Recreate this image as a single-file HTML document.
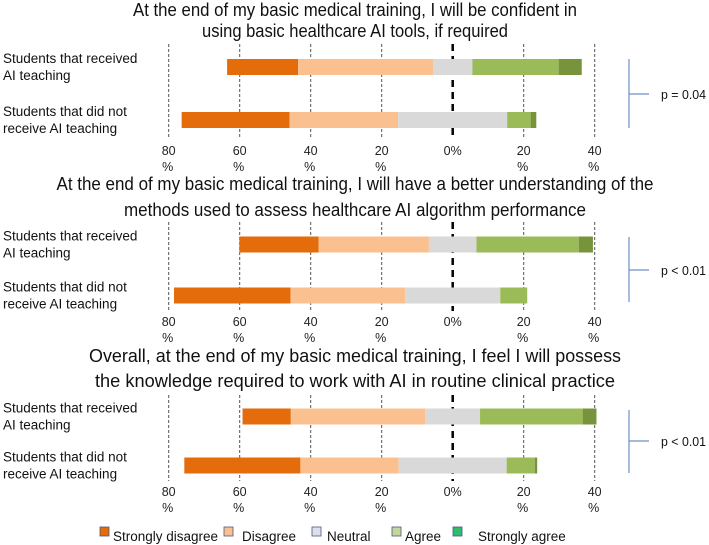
<!DOCTYPE html>
<html><head><meta charset="utf-8"><style>
body{margin:0;background:#fff;}
svg{display:block;font-family:"Liberation Sans",sans-serif;}
</style></head><body>
<svg id="c" width="709" height="545"></svg>
<script>
const categories=["Strongly disagree","Disagree","Neutral","Agree","Strongly agree"];
const groups=["Students that received|AI teaching","Students that did not|receive AI teaching"];
const titles=[
 ["At the end of my basic medical training, I will be confident in","using basic healthcare AI tools, if required"],
 ["At the end of my basic medical training, I will have a better understanding of the","methods used to assess healthcare AI algorithm performance"],
 ["Overall, at the end of my basic medical training, I feel I will possess","the knowledge required to work with AI in routine clinical practice"]];
const pValues=["p = 0.04","p < 0.01","p < 0.01"];
const q1Received=[20,38,11.1,24.3,6.5];
const q1NotReceived=[30.4,30.6,30.7,6.6,1.6];
const q2Received=[22.3,31.1,13.4,28.8,4.0];
const q2NotReceived=[32.8,32.3,26.8,7.6,0];
const q3Received=[13.6,37.9,15.4,28.9,3.9];
const q3NotReceived=[32.7,27.7,30.4,7.9,0.7];
const tickValues=[-80,-60,-40,-20,0,20,40];
const tickLabels=["80|%","60|%","40|%","20|%","0%","20|%","40|%"];
const series=[[q1Received,q1NotReceived],[q2Received,q2NotReceived],[q3Received,q3NotReceived]];
const colors=["#e46c0a","#fac090","#d9d9d9","#9bbb59","#77933c"];
const legendColors=["#e46c0a","#fac090","#dce0ec","#c3d69b","#2ebd6e"];
const svg=document.getElementById('c');const NS="http://www.w3.org/2000/svg";
function mk(t,a,p){const e=document.createElementNS(NS,t);for(const k in a)e.setAttribute(k,a[k]);(p||svg).appendChild(e);return e;}
const x0=452.7,ppp=3.55;
function xs(v){return x0+v*ppp;}
const panels=[
 {t1:10,t2:31,tw:[444,306],gTop:44,gBot:137,rows:[67,120],lab:150,br:[59,128,94]},
 {t1:184,t2:210,tw:[597,462],gTop:222,gBot:311,rows:[244.5,295.5],lab:321,br:[237,302,270]},
 {t1:356,t2:381,tw:[532,520],gTop:395,gBot:481,rows:[416.5,465.5],lab:491,br:[410,473,441]}];
panels.forEach((P,pi)=>{
 const g=mk('g',{});
 
 
 [0,1].forEach(li=>{const t=mk('text',{x:355,y:(li?P.t2:P.t1)+6,'text-anchor':'middle','font-size':18,fill:'#111',textLength:P.tw[li],lengthAdjust:'spacingAndGlyphs'},g);t.textContent=titles[pi][li];
  
  });
 tickValues.forEach((v,i)=>{
  const zero=v===0;
  const l=mk('line',{x1:xs(v),x2:xs(v),y1:P.gTop,y2:P.gBot,stroke:zero?'#000':'#555','stroke-width':zero?2.5:1,'stroke-dasharray':zero?'7,5':'3,2'},g);
  
  
  const parts=tickLabels[i].split('|');
  parts.forEach((s,k)=>{const t=mk('text',{x:xs(v)+(k?-1:0),y:P.lab+5+k*16,'text-anchor':'middle','font-size':12.5,fill:'#222'},g);t.textContent=s;
   
   });
 });
 series[pi].forEach((vals,ri)=>{
  const cy=P.rows[ri];
  groups[ri].split('|').forEach((s,k)=>{const t=mk('text',{x:3,y:cy-4+k*17,'font-size':13.5,fill:'#111'},g);t.textContent=s;
   
   });
  let start=-(vals[0]+vals[1]+vals[2]/2);
  vals.forEach((v,si)=>{
   if(v<=0)return;
   const r=mk('rect',{x:xs(start),y:cy-8,width:v*ppp,height:16,fill:colors[si]},g);
   
   
   start+=v;
  });
 });
 const [b1,b2,bm]=P.br;
 const br=mk('path',{d:`M629 ${b1}V${b2}M629 ${bm}H649`,stroke:'#6f8fc7','stroke-width':1.2,fill:'none'},g);
 
 
 const pt=mk('text',{x:661,y:bm+5,'font-size':13,fill:'#111',textLength:45,lengthAdjust:'spacingAndGlyphs'},g);pt.textContent=pValues[pi];
 
 
});
const legSq=[100,224,312,392,453],legTx=[113,242,327,405,478];
categories.forEach((c,i)=>{
 const r=mk('rect',{x:legSq[i],y:527,width:9,height:9,fill:legendColors[i],stroke:'#4a5a7a','stroke-width':0.8});
 
 
 const t=mk('text',{x:legTx[i],y:541,'font-size':13.5,fill:'#111'});t.textContent=c;
 
 
});
</script>
</body></html>
